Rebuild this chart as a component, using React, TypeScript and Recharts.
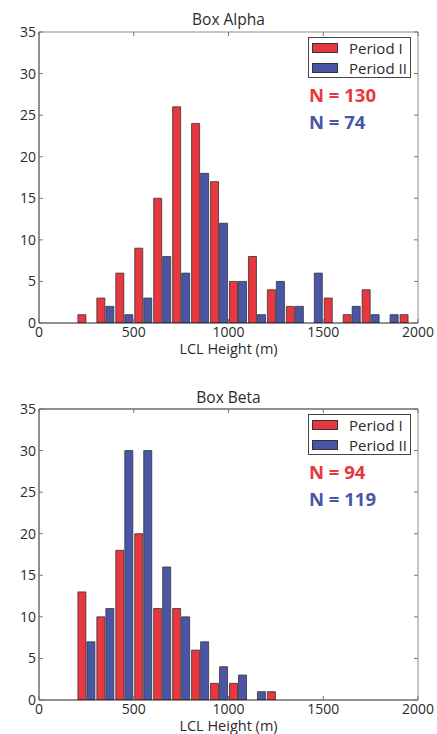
import { BarChart, Bar, XAxis, YAxis, Legend } from 'recharts'

// histogram bins (bin start, 100 m wide)
const ALPHA_BINS = [200, 300, 400, 500, 600, 700, 800, 900, 1000, 1100, 1200, 1300, 1400, 1500, 1600, 1700, 1800, 1900]
const ALPHA_P1 = [1, 3, 6, 9, 15, 26, 24, 17, 5, 8, 4, 2, 0, 3, 1, 4, 0, 1]
const ALPHA_P2 = [0, 2, 1, 3, 8, 6, 18, 12, 5, 1, 5, 2, 6, 0, 2, 1, 1, 0]

const BETA_BINS = [200, 300, 400, 500, 600, 700, 800, 900, 1000, 1100, 1200]
const BETA_P1 = [13, 10, 18, 20, 11, 11, 6, 2, 2, 0, 1]
const BETA_P2 = [7, 11, 30, 30, 16, 10, 7, 4, 3, 1, 0]

const BIN_WIDTH = 100
const X_TICKS = [0, 500, 1000, 1500, 2000]
const Y_TICKS = [0, 5, 10, 15, 20, 25, 30, 35]

const RED = '#e8383f'
const BLUE = '#4a55a6'
const FONT = '"Open Sans", sans-serif'
const TEXT = '#2b2b2b'

const buildRows = (bins: number[], p1: number[], p2: number[]) =>
  bins.map((start, i) => ({ center: start + BIN_WIDTH / 2, p1: p1[i], p2: p2[i] }))

function BottomTick({ x, y, payload }: any) {
  return (
    <g>
      <line x1={x} x2={x} y1={y} y2={y - 4} stroke="#777" />
      <text x={x} y={y + 14} textAnchor="middle" fontSize={14} fontFamily={FONT} fill={TEXT}>
        {payload.value}
      </text>
    </g>
  )
}

function LeftTick({ x, y, payload }: any) {
  return (
    <g>
      <line x1={x} x2={x + 4} y1={y} y2={y} stroke="#777" />
      <text x={x - 3} y={y + 5} textAnchor="end" fontSize={14} fontFamily={FONT} fill={TEXT}>
        {payload.value}
      </text>
    </g>
  )
}

const TopTick = ({ x, y }: any) => <line x1={x} x2={x} y1={y} y2={y + 4} stroke="#777" />
const RightTick = ({ x, y }: any) => <line x1={x - 4} x2={x} y1={y} y2={y} stroke="#777" />

function LegendBox({ payload, n1, n2 }: any) {
  return (
    <div style={{ position: 'relative', fontFamily: FONT, color: TEXT }}>
      <div style={{ border: '1px solid #444', width: 103, height: 41, boxSizing: 'border-box', background: '#fff' }}>
        {(payload || []).map((item: any, i: number) => (
          <div key={item.value} style={{ position: 'absolute', left: 4, top: 4 + i * 20, height: 14, display: 'flex', alignItems: 'center' }}>
            <div style={{ width: 26, height: 10, background: item.color, border: '1px solid #333', boxSizing: 'border-box' }} />
            <span style={{ marginLeft: 11, fontSize: 15, lineHeight: '14px' }}>{item.value}</span>
          </div>
        ))}
      </div>
      <div style={{ position: 'absolute', left: 1, top: 46, fontSize: 18.5, fontWeight: 700, color: RED, lineHeight: '24px', whiteSpace: 'nowrap' }}>
        N = {n1}
      </div>
      <div style={{ position: 'absolute', left: 1, top: 73, fontSize: 18.5, fontWeight: 700, color: BLUE, lineHeight: '24px', whiteSpace: 'nowrap' }}>
        N = {n2}
      </div>
    </div>
  )
}

interface HistProps {
  title: string
  rows: Array<{ center: number; p1: number; p2: number }>
  n1: number
  n2: number
  top: number
  marginTop: number
  axisHeight: number
  titleOffset: number
  topStroke: string
}

function Histogram({ title, rows, n1, n2, top, marginTop, axisHeight, titleOffset, topStroke }: HistProps) {
  return (
    <div style={{ position: 'absolute', left: 0, top }}>
      <BarChart
        width={437}
        height={marginTop + 291 + axisHeight}
        data={rows}
        margin={{ top: marginTop - 1, right: 18, bottom: 0, left: 0 }}
        barGap={1}
      >
        <XAxis
          xAxisId="bottom"
          dataKey="center"
          type="number"
          domain={[0, 2000]}
          ticks={X_TICKS}
          allowDataOverflow
          height={axisHeight}
          tickSize={0}
          tickMargin={0}
          tickLine={false}
          tick={<BottomTick />}
          axisLine={{ stroke: '#222' }}
          label={{ value: 'LCL Height (m)', position: 'insideTop', offset: 21, fontSize: 14.5, fontFamily: FONT, fill: TEXT }}
        />
        <XAxis
          xAxisId="top"
          orientation="top"
          dataKey="center"
          type="number"
          domain={[0, 2000]}
          ticks={X_TICKS}
          allowDataOverflow
          height={1}
          tickSize={0}
          tickMargin={0}
          tickLine={false}
          tick={<TopTick />}
          axisLine={{ stroke: topStroke }}
          label={{ value: title, position: 'top', offset: titleOffset, fontSize: 15.5, fontFamily: FONT, fill: TEXT }}
        />
        <YAxis
          yAxisId="left"
          type="number"
          domain={[0, 35]}
          ticks={Y_TICKS}
          allowDataOverflow
          width={39}
          tickSize={0}
          tickMargin={0}
          tickLine={false}
          tick={<LeftTick />}
          axisLine={{ stroke: '#222' }}
        />
        <YAxis
          yAxisId="right"
          orientation="right"
          type="number"
          domain={[0, 35]}
          ticks={Y_TICKS}
          allowDataOverflow
          width={1}
          tickSize={0}
          tickMargin={0}
          tickLine={false}
          tick={<RightTick />}
          axisLine={{ stroke: '#8c8c8c' }}
        />
        <Legend
          layout="vertical"
          align="center"
          verticalAlign="middle"
          wrapperStyle={{ top: marginTop + 5, left: 308, width: 104, height: 100 }}
          content={(props: any) => <LegendBox payload={props.payload} n1={n1} n2={n2} />}
        />
        <Bar
          xAxisId="bottom"
          yAxisId="left"
          dataKey="p1"
          name="Period I"
          fill={RED}
          stroke="#333"
          strokeWidth={0.8}
          barSize={8}
          isAnimationActive={false}
        />
        <Bar
          xAxisId="bottom"
          yAxisId="left"
          dataKey="p2"
          name="Period II"
          fill={BLUE}
          stroke="#333"
          strokeWidth={0.8}
          barSize={8}
          isAnimationActive={false}
        />
      </BarChart>
    </div>
  )
}

export default function App() {
  return (
    <div style={{ position: 'fixed', left: 0, top: 0, width: 437, height: 734, background: '#fff', fontFamily: FONT }}>
      <Histogram
        title="Box Alpha"
        rows={buildRows(ALPHA_BINS, ALPHA_P1, ALPHA_P2)}
        n1={130}
        n2={74}
        top={0}
        marginTop={32}
        axisHeight={44}
        titleOffset={6}
        topStroke="#8c8c8c"
      />
      <Histogram
        title="Box Beta"
        rows={buildRows(BETA_BINS, BETA_P1, BETA_P2)}
        n1={94}
        n2={119}
        top={367}
        marginTop={42}
        axisHeight={34}
        titleOffset={5}
        topStroke="#222"
      />
    </div>
  )
}
